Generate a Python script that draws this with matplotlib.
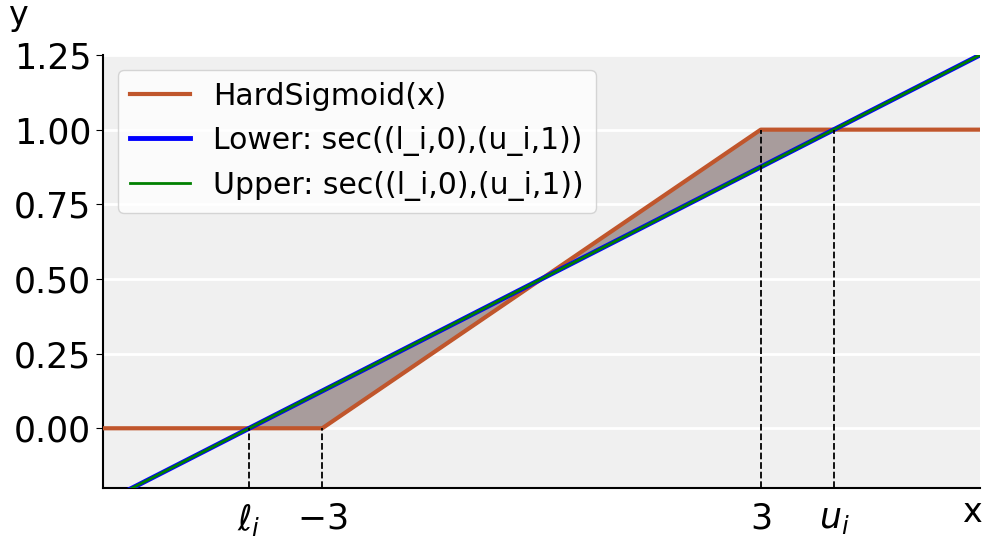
import numpy as np
import matplotlib
matplotlib.use("Agg")
import matplotlib.pyplot as plt

# Data
l_i = -4.0
u_i = 4.0
x_min, x_max = -6.0, 6.0
y_min, y_max = -0.2, 1.25
x_ticks = [l_i, -3, 3, u_i]
x_tick_labels = [r"$\ell_i$", r"$-3$", r"$3$", r"$u_i$"]
y_ticks = [0.00, 0.25, 0.50, 0.75, 1.00, 1.25]

def hard_sigmoid(x):
    return np.clip(x / 6.0 + 0.5, 0.0, 1.0)

slope = 1.0 / (u_i - l_i)
def secant(x):
    return slope * (x - l_i)

x = np.linspace(x_min, x_max, 2401)
xs = np.linspace(l_i, u_i, 801)

fig = plt.figure(figsize=(9.96, 5.51), dpi=100)
ax = fig.add_axes([103/996, 1 - 488/551, (980-103)/996, (488-55)/551])
ax.set_facecolor("#f0f0f0")
ax.set_axisbelow(True)
ax.yaxis.grid(True, color="white", linewidth=2)

ax.fill_between(xs, hard_sigmoid(xs), secant(xs), color="#a89c9c", zorder=2)
ax.plot(x, hard_sigmoid(x), color="#c0562c", linewidth=3, label="HardSigmoid(x)", zorder=3)
ax.plot(x, secant(x), color="blue", linewidth=3.5, label="Lower: sec((l_i,0),(u_i,1))", zorder=4)
ax.plot(x, secant(x), color="green", linewidth=2, label="Upper: sec((l_i,0),(u_i,1))", zorder=5)

for xv in x_ticks:
    ax.plot([xv, xv], [y_min, hard_sigmoid(xv)], color="black", linestyle="--",
            linewidth=1.3, zorder=6)

ax.set_xlim(x_min, x_max)
ax.set_ylim(y_min, y_max)
ax.set_xticks(x_ticks)
ax.set_xticklabels(x_tick_labels)
ax.set_yticks(y_ticks)
ax.set_yticklabels([f"{v:.2f}" for v in y_ticks])
ax.tick_params(axis="x", length=0, labelsize=25, pad=10)
ax.tick_params(axis="y", length=5, labelsize=25)

for s in ["top", "right"]:
    ax.spines[s].set_visible(False)
for s in ["left", "bottom"]:
    ax.spines[s].set_linewidth(1.5)

fig.text(972/996, 1 - 512/551, "x", fontsize=24, ha="center", va="center")
fig.text(18/996, 1 - 15/551, "y", fontsize=24, ha="center", va="center")

ax.legend(loc="upper left", fontsize=21.5, framealpha=0.8, handlelength=2.0,
          borderpad=0.4, labelspacing=0.5)

fig.savefig("out.png", dpi=100)
